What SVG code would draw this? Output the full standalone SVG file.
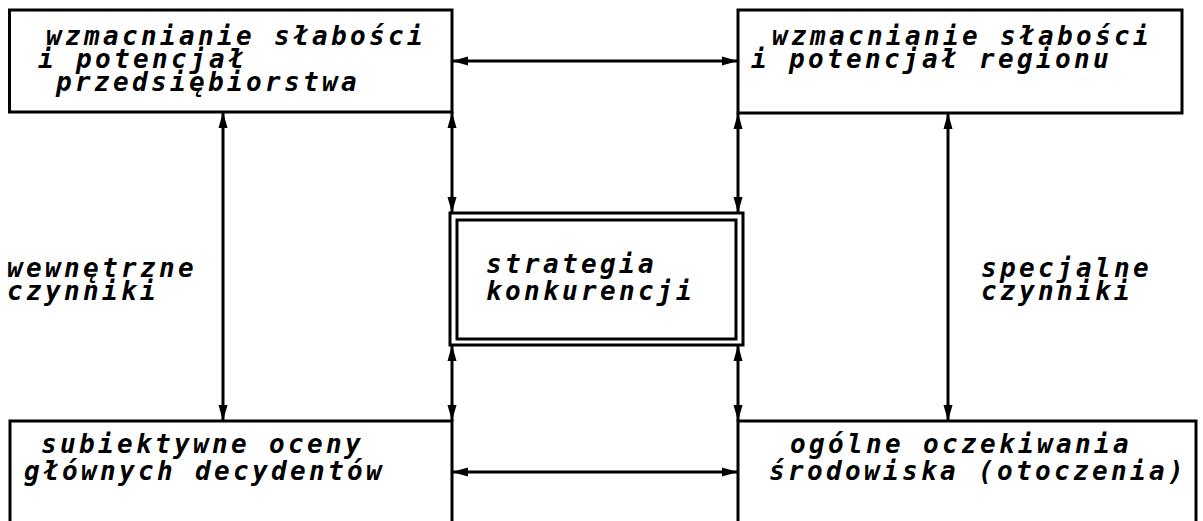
<svg xmlns="http://www.w3.org/2000/svg" width="1203" height="521" viewBox="0 0 1203 521">
<style>
.box{fill:none;stroke:#000;stroke-width:3}
.conn{fill:none;stroke:#000;stroke-width:3;marker-start:url(#ah);marker-end:url(#ah)}
.t{font-family:"DejaVu Sans Mono","Liberation Mono",monospace;font-size:26px;font-weight:bold;font-style:oblique;letter-spacing:3.35px;fill:#000}
</style>
<defs>
<marker id="ah" viewBox="0 0 16 10" refX="16" refY="5" markerWidth="16" markerHeight="10" markerUnits="userSpaceOnUse" orient="auto-start-reverse">
<path d="M0,0.5 L16,5 L0,9.5 z" fill="#000"/>
</marker>
</defs>
<rect width="1203" height="521" fill="#fff"/>
<g id="connectors">
<path class="conn" d="M452,61 H738"/>
<path class="conn" d="M223,112 V421"/>
<path class="conn" d="M948,113 V421"/>
<path class="conn" d="M452,112 V213"/>
<path class="conn" d="M738,113 V213"/>
<path class="conn" d="M452,345 V421"/>
<path class="conn" d="M738,345 V421"/>
<path class="conn" d="M452,472 H738"/>
</g>
<g id="node-top-left">
<rect class="box" x="9.5" y="10" width="442.5" height="102"/>
<text class="t" x="46" y="45">wzmacnianie słabości</text>
<text class="t" x="38" y="68">i potencjał</text>
<text class="t" x="56" y="91">przedsiębiorstwa</text>
</g>
<g id="node-top-right">
<rect class="box" x="738" y="10" width="444" height="103"/>
<text class="t" x="772" y="45">wzmacnianie słabości</text>
<text class="t" x="751" y="68">i potencjał regionu</text>
</g>
<g id="node-center">
<rect class="box" x="450" y="213" width="293" height="132"/>
<rect class="box" x="457" y="220" width="279" height="119"/>
<text class="t" x="486" y="273">strategia</text>
<text class="t" x="486" y="300">konkurencji</text>
</g>
<g id="node-bottom-left">
<rect class="box" x="10" y="421" width="442" height="130"/>
<text class="t" x="41" y="453">subiektywne oceny</text>
<text class="t" x="24" y="480">głównych decydentów</text>
</g>
<g id="node-bottom-right">
<rect class="box" x="738" y="421" width="458" height="130"/>
<text class="t" x="790" y="453">ogólne oczekiwania</text>
<text class="t" x="769" y="480">środowiska (otoczenia)</text>
</g>
<g id="label-left">
<text class="t" x="7" y="277">wewnętrzne</text>
<text class="t" x="7" y="300">czynniki</text>
</g>
<g id="label-right">
<text class="t" x="981" y="277">specjalne</text>
<text class="t" x="981" y="300">czynniki</text>
</g>
</svg>
